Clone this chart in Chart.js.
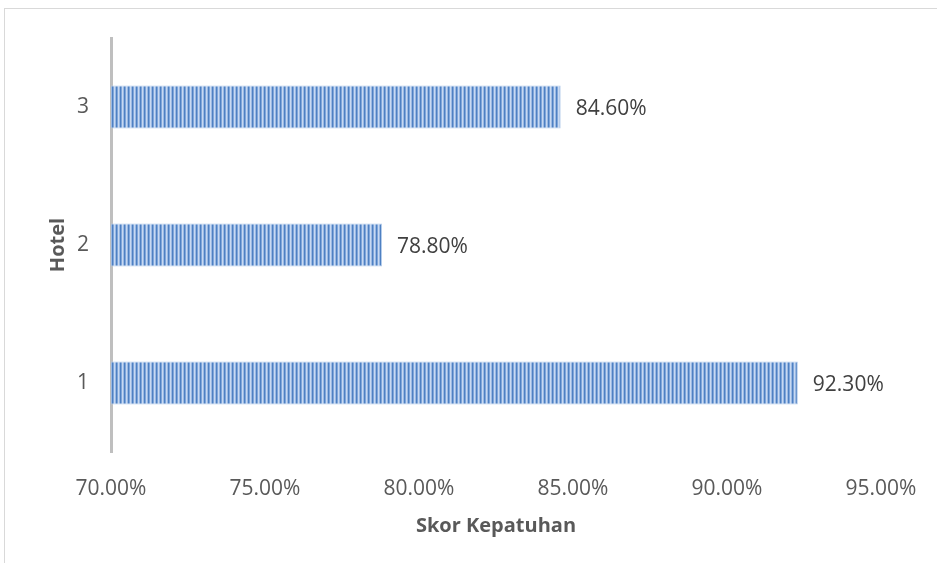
<!DOCTYPE html>
<html>
<head>
<meta charset="utf-8">
<script src="https://cdn.jsdelivr.net/npm/chart.js@4.4.1/dist/chart.umd.min.js"></script>
<style>
  html, body { margin: 0; padding: 0; background: #fff; overflow: hidden; }
  #wrap { position: relative; width: 937px; height: 563px; }
  #frame { position: absolute; left: 4px; top: 8px; width: 1000px; height: 1000px; border: 1.5px solid #d9d9d9; box-sizing: border-box; }
  canvas { position: absolute; left: 0; top: 0; }
</style>
</head>
<body>
<div id="wrap">
  <div id="frame"></div>
  <canvas id="chart" width="937" height="563"></canvas>
</div>
<script>
var hotels = ['1', '2', '3'];
var skor = [92.3, 78.8, 84.6];
var xMin = 70, xMax = 95, xStep = 5;

var font = '"Open Sans", sans-serif';

// striped fill like the original bars
function stripePattern(ctx) {
    var c = document.createElement('canvas');
    c.width = 4; c.height = 1;
    var p = c.getContext('2d');
    var cols = ['#4e80c2', '#80a6da', '#c8d9f1', '#9ab9e4'];
    for (var i = 0; i < cols.length; i++) {
        p.fillStyle = cols[i];
        p.fillRect(i, 0, 1, 1);
    }
    return ctx.createPattern(c, 'repeat');
}

var valueLabels = {
    id: 'valueLabels',
    afterDatasetsDraw: function (chart) {
        var ctx = chart.ctx;
        var meta = chart.getDatasetMeta(0);
        ctx.save();
        ctx.font = '21px ' + font;
        ctx.fillStyle = '#404040';
        ctx.textAlign = 'left';
        ctx.textBaseline = 'middle';
        meta.data.forEach(function (bar, i) {
            ctx.fillText(skor[i].toFixed(2) + '%', bar.x + 15, bar.y + 2);
        });
        ctx.restore();
    }
};

var ctx = document.getElementById('chart').getContext('2d');
var chart = new Chart(ctx, {
    type: 'bar',
    data: {
        labels: hotels,
        datasets: [{
            data: skor,
            base: xMin,
            backgroundColor: stripePattern(ctx),
            borderColor: '#b4cbea',
            borderWidth: 1,
            barPercentage: 0.31,
            categoryPercentage: 1
        }]
    },
    options: {
        indexAxis: 'y',
        responsive: false,
        animation: false,
        layout: { padding: { left: 46, top: 38, right: 56, bottom: 0 } },
        plugins: {
            legend: { display: false },
            tooltip: { enabled: false }
        },
        scales: {
            x: {
                min: xMin,
                max: xMax,
                ticks: {
                    stepSize: xStep,
                    padding: 20,
                    color: '#595959',
                    font: { family: font, size: 21 },
                    callback: function (v) { return v.toFixed(2) + '%'; }
                },
                grid: { display: false, drawTicks: true, tickLength: 4 },
                border: { display: false },
                title: {
                    display: true,
                    text: 'Skor Kepatuhan',
                    color: '#595959',
                    font: { family: font, size: 20, weight: 'bold' },
                    padding: { top: 8, bottom: 25 }
                },
                afterFit: function (s) { s.height = 111; }
            },
            y: {
                reverse: true,
                ticks: {
                    padding: 22,
                    color: '#595959',
                    font: { family: font, size: 21 }
                },
                grid: { display: true, color: 'transparent', drawTicks: false },
                border: { display: true, color: '#bfbfbf', width: 3 },
                title: {
                    display: true,
                    text: 'Hotel',
                    color: '#595959',
                    font: { family: font, size: 20, weight: 'bold' },
                    padding: 0
                },
                afterFit: function (s) { s.width = 65; }
            }
        }
    },
    plugins: [valueLabels]
});
</script>
</body>
</html>
